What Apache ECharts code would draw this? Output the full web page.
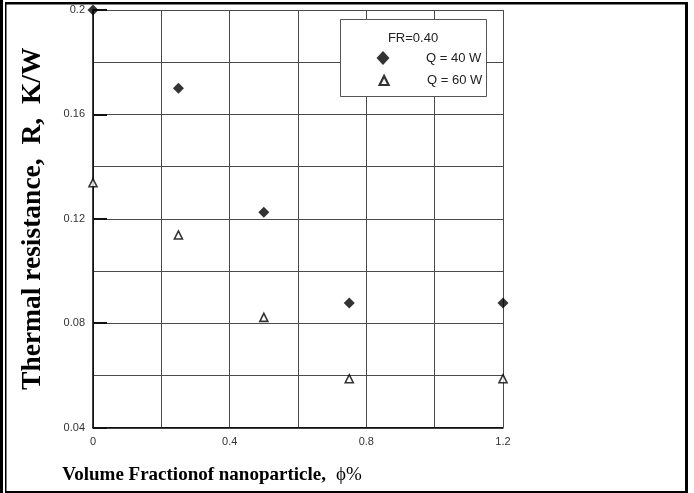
<!DOCTYPE html>
<html>
<head>
<meta charset="utf-8">
<script src="https://cdn.jsdelivr.net/npm/echarts@6/dist/echarts.min.js"></script>
<style>
  html, body { margin: 0; padding: 0; background: #fff; }
  #chart { width: 694px; height: 493px; }
</style>
</head>
<body>
<div id="chart"></div>
<script>
// Volume fraction of nanoparticle (%) at each measurement
const volumeFraction = [0, 0.25, 0.5, 0.75, 1.2];
// Thermal resistance (K/W) for each heat load
const resistanceQ40 = [0.2, 0.17, 0.1225, 0.0877, 0.0877];
const resistanceQ60 = [0.1338, 0.1138, 0.0822, 0.0587, 0.0587];
const seriesNames = ['Q = 40 W', 'Q = 60 W'];
const yTicks = [0.04, 0.08, 0.12, 0.16, 0.2];
const xTicks = [0, 0.4, 0.8, 1.2];

const pairs = (xs, ys) => xs.map((x, i) => [x, ys[i]]);

const gridLine = { lineStyle: { color: '#4a4a4a', width: 1 } };
const tickFont = { fontFamily: 'Liberation Sans, Arial', fontSize: 11, color: '#333' };
const legendFont = { fontFamily: 'Liberation Sans, Arial', fontSize: 13, color: '#222' };

const chart = echarts.init(document.getElementById('chart'), null, { renderer: 'canvas' });
chart.setOption({
  animation: false,
  backgroundColor: '#fff',
  grid: { left: 93, top: 10, width: 410, height: 417.5 },
  xAxis: {
    type: 'value',
    min: xTicks[0],
    max: xTicks[xTicks.length - 1],
    interval: 0.4,
    axisLine: { show: true, onZero: false, lineStyle: { color: '#000', width: 1.5 } },
    axisTick: { show: false },
    minorTick: { show: false, splitNumber: 2 },
    splitLine: { show: true, ...gridLine },
    minorSplitLine: { show: true, ...gridLine },
    axisLabel: { ...tickFont, margin: 9, formatter: v => String(+v.toFixed(1)) },
    name: '{b|Volume Fractionof nanoparticle,}   {r|\u03d5%}',
    nameLocation: 'middle',
    nameGap: 38,
    nameTextStyle: {
      padding: [0, 172, 0, 0],
      rich: {
        b: { fontFamily: 'Liberation Serif', fontWeight: 'bold', fontSize: 19, color: '#000' },
        r: { fontFamily: 'Liberation Serif', fontSize: 19, color: '#000' }
      }
    }
  },
  yAxis: {
    type: 'value',
    min: yTicks[0],
    max: yTicks[yTicks.length - 1],
    interval: 0.04,
    axisLine: { show: true, lineStyle: { color: '#000', width: 1.5 } },
    axisTick: { show: true, inside: true, length: 14, lineStyle: { color: '#111', width: 2 } },
    minorTick: { show: false, splitNumber: 2 },
    splitLine: { show: true, ...gridLine },
    minorSplitLine: { show: true, ...gridLine },
    axisLabel: { ...tickFont, margin: 8, formatter: v => String(+v.toFixed(2)) },
    name: 'Thermal resistance,  R,  K/W',
    nameLocation: 'middle',
    nameGap: 46,
    nameTextStyle: { fontFamily: 'Liberation Serif', fontWeight: 'bold', fontSize: 27.5, color: '#000' }
  },
  legend: [
    {
      orient: 'vertical', left: 376.5, top: 51, padding: 0,
      itemWidth: 13, itemHeight: 14, z: 10,
      data: [seriesNames[0]],
      textStyle: { ...legendFont, padding: [0, 0, 0, 31.5] }
    },
    {
      orient: 'vertical', left: 378.5, top: 74, padding: 0,
      itemWidth: 9, itemHeight: 9, z: 10,
      data: [seriesNames[1]],
      itemStyle: { borderWidth: 2.2 },
      textStyle: { ...legendFont, padding: [0, 0, 0, 33.5] }
    }
  ],
  graphic: [
    // legend frame and its heading
    { type: 'rect', z: 5, shape: { x: 340.5, y: 19.5, width: 146, height: 77 },
      style: { fill: '#fff', stroke: '#555', lineWidth: 1 } },
    { type: 'text', z: 6, x: 413, y: 38,
      style: { text: 'FR=0.40', ...legendFont, fill: '#222',
               textAlign: 'center', textVerticalAlign: 'middle' } },
    // page border
    { type: 'rect', shape: { x: 0, y: 0, width: 3, height: 493 }, style: { fill: '#000' } },
    { type: 'rect', shape: { x: 5, y: 2, width: 1.5, height: 491 }, style: { fill: '#000' } },
    { type: 'rect', shape: { x: 5, y: 2, width: 683, height: 2.5 }, style: { fill: '#000' } },
    { type: 'rect', shape: { x: 685, y: 2, width: 3, height: 491 }, style: { fill: '#000' } },
    { type: 'rect', shape: { x: 5, y: 491, width: 683, height: 2 }, style: { fill: '#000' } }
  ],
  series: [
    {
      name: seriesNames[0],
      type: 'scatter',
      symbol: 'diamond',
      symbolSize: [11, 11],
      itemStyle: { color: '#000' },
      z: 3,
      data: pairs(volumeFraction, resistanceQ40)
    },
    {
      name: seriesNames[1],
      type: 'scatter',
      symbol: 'triangle',
      symbolSize: [8, 8],
      itemStyle: { color: '#fff', borderColor: '#000', borderWidth: 1.6 },
      z: 3,
      data: pairs(volumeFraction, resistanceQ60)
    }
  ]
});
</script>
</body>
</html>
